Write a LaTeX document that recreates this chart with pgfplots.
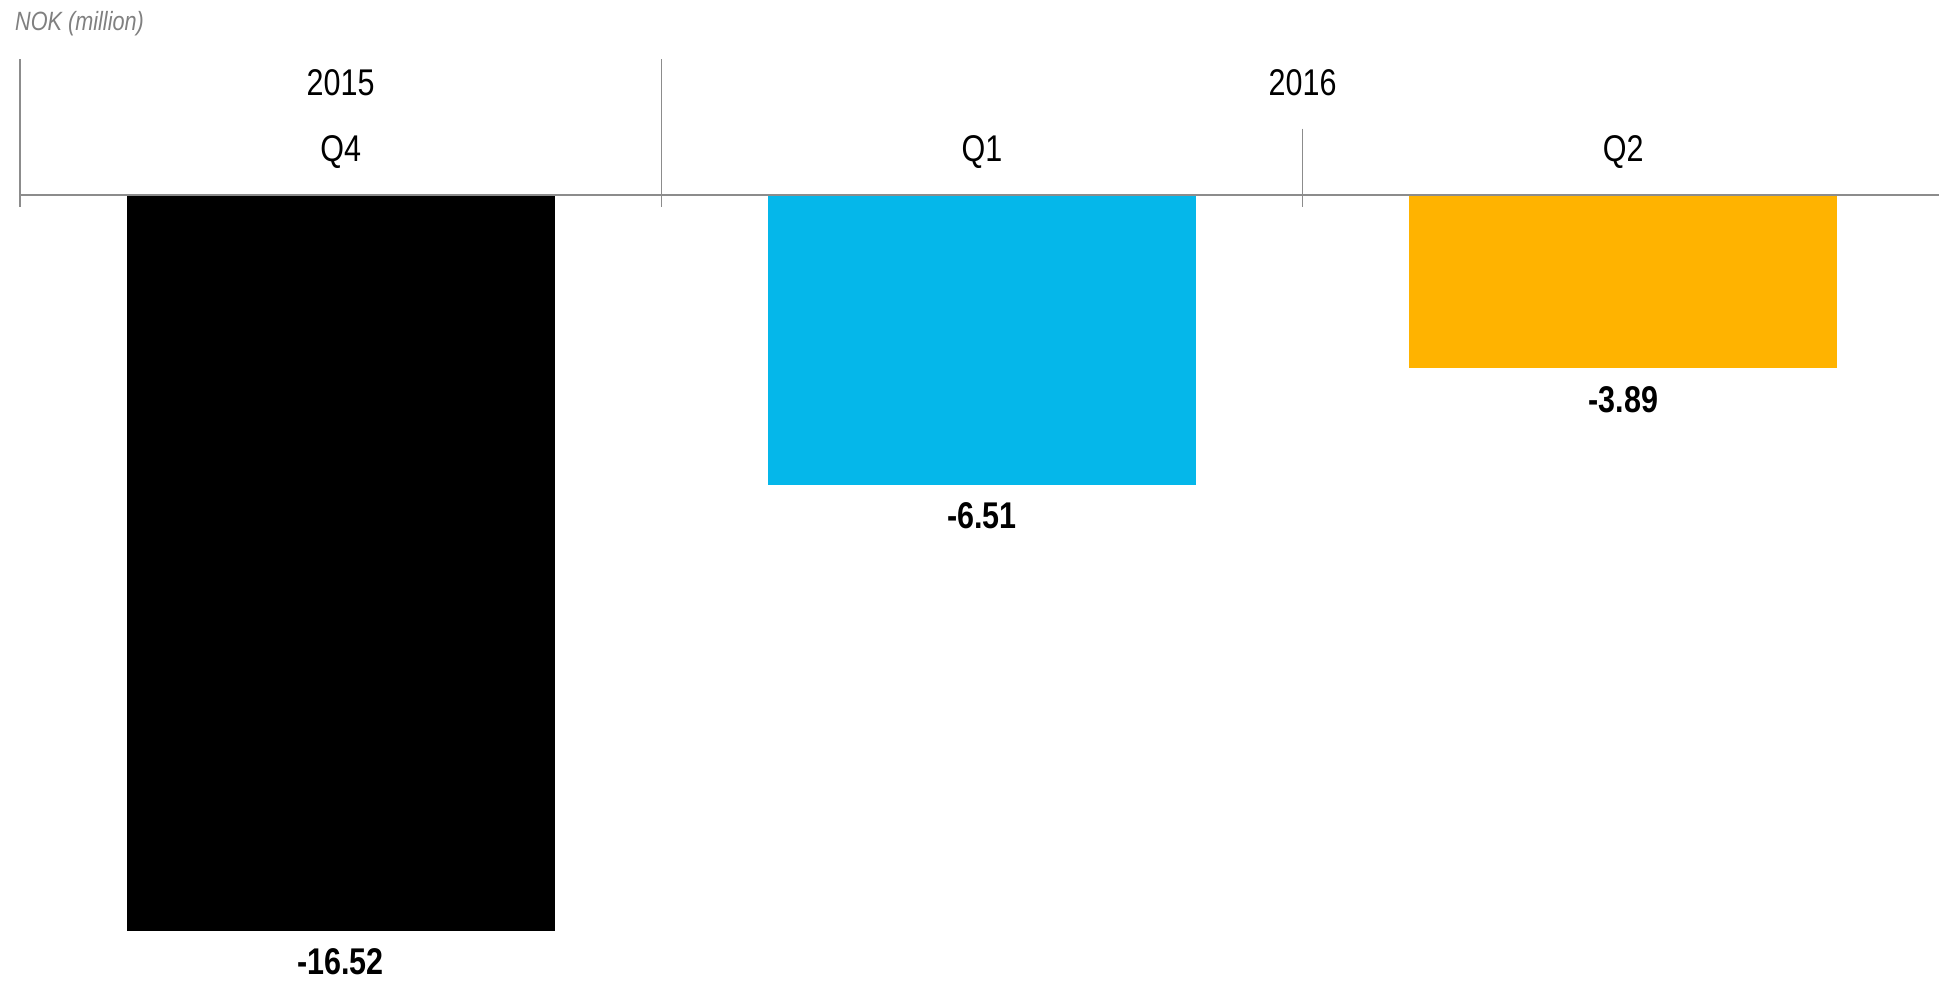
\documentclass[border=0pt]{standalone}
\usepackage{fontspec}
\setmainfont{Liberation Sans}[FakeStretch=0.82]
\usepackage{pgfplots}
\pgfplotsset{compat=1.18}
\definecolor{barcyan}{HTML}{05B7EA}
\definecolor{barorange}{HTML}{FFB300}
\definecolor{linegray}{HTML}{8C8C8C}
\definecolor{txtgray}{HTML}{808080}
\begin{document}
\begin{tikzpicture}
\useasboundingbox (0,0) rectangle (969.5pt,491pt);
\begin{axis}[at={(10pt,0pt)}, anchor=south west, scale only axis,
  width=959.5pt, height=393.5pt,
  xmin=-0.5, xmax=2.4924, ymin=-17.67, ymax=0,
  hide axis, clip=false,
  ybar, bar width=214pt, bar shift=0pt,
  nodes near coords, point meta=explicit symbolic,
  every node near coord/.append style={anchor=center, yshift=-15.5pt,
    font=\fontsize{18.6}{20}\selectfont\bfseries, text=black},
]
\addplot[ybar, bar shift=0pt, fill=black, draw=none] coordinates {(0,-16.52) [-16.52]};
\addplot[ybar, bar shift=0pt, fill=barcyan, draw=none] coordinates {(1,-6.51) [-6.51]};
\addplot[ybar, bar shift=0pt, fill=barorange, draw=none] coordinates {(2,-3.89) [-3.89]};
% frame lines
\draw[linegray, line width=0.6pt] (axis cs:-0.5,0) -- (axis cs:2.4924,0);
\draw[linegray, line width=0.6pt] (axis cs:-0.5,3.044) -- (axis cs:-0.5,-0.263);
\draw[linegray, line width=0.6pt] (axis cs:0.5,3.044) -- (axis cs:0.5,-0.263);
\draw[linegray, line width=0.6pt] (axis cs:1.5,1.490) -- (axis cs:1.5,-0.263);
% header labels
\node[font=\fontsize{18.6}{20}\selectfont] at (axis cs:0,2.516) {2015};
\node[font=\fontsize{18.6}{20}\selectfont] at (axis cs:1.5,2.516) {2016};
\node[font=\fontsize{18.6}{20}\selectfont] at (axis cs:0,0.965) {Q4};
\node[font=\fontsize{18.6}{20}\selectfont] at (axis cs:1,0.965) {Q1};
\node[font=\fontsize{18.6}{20}\selectfont] at (axis cs:2,0.965) {Q2};
\end{axis}
\node[anchor=west, inner sep=0pt, text=txtgray, font=\fontsize{13.2}{15}\selectfont\itshape] at (7.4pt,479.25pt) {NOK (million)};
\end{tikzpicture}
\end{document}
